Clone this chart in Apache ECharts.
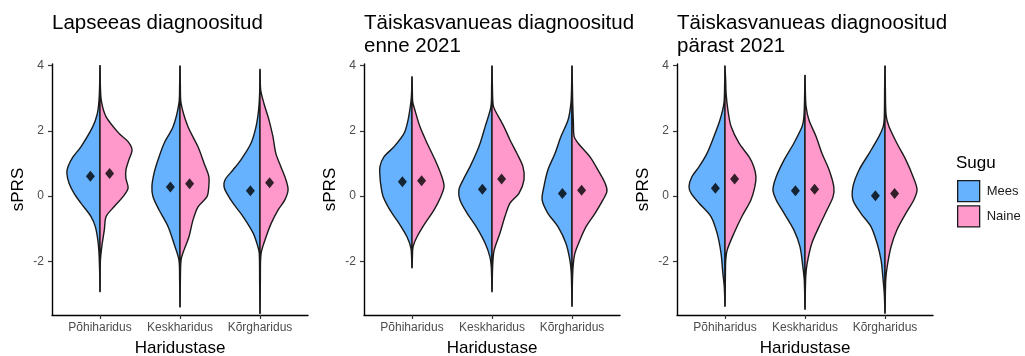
<!DOCTYPE html>
<html>
<head>
<meta charset="utf-8">
<script src="https://cdn.jsdelivr.net/npm/echarts@6/dist/echarts.min.js"></script>
<style>
  html, body { margin: 0; padding: 0; background: #ffffff; }
  #chart { width: 1025px; height: 356px; }
</style>
</head>
<body>
<div id="chart"></div>
<script>
// Education levels and sexes
const categories = ['Põhiharidus', 'Keskharidus', 'Kõrgharidus'];
const sexes = ['Mees', 'Naine'];
const panelTitles = [
  'Lapseeas diagnoositud',
  'Täiskasvanueas diagnoositud\nenne 2021',
  'Täiskasvanueas diagnoositud\npärast 2021'
];
const yTicks = [-2, 0, 2, 4];

// Density profiles: [sPRS, relative density] from top to bottom, one per education level
const lapseeasMees = [
  [[4.0,0],[3.4,0.01],[2.9,0.03],[2.5,0.08],[2.13,0.2],[1.51,0.53],[1.2,0.75],[0.9,0.89],[0.7,0.92],[0.39,0.86],[0.08,0.72],[-0.22,0.53],[-0.63,0.25],[-0.94,0.13],[-1.35,0.06],[-1.7,0.03],[-2.3,0.01],[-2.93,0]],
  [[4.0,0],[3.4,0.01],[2.84,0.03],[2.13,0.19],[1.62,0.44],[1.11,0.61],[0.7,0.72],[0.29,0.78],[-0.02,0.75],[-0.43,0.58],[-0.94,0.33],[-1.45,0.17],[-1.96,0.03],[-2.6,0.01],[-3.4,0]],
  [[3.88,0],[3.15,0.01],[2.63,0.04],[2.13,0.11],[1.62,0.25],[1.11,0.53],[0.8,0.75],[0.5,0.97],[0.29,1.0],[0.08,0.92],[-0.22,0.75],[-0.63,0.47],[-1.14,0.19],[-1.55,0.06],[-1.76,0.02],[-2.6,0.01],[-3.6,0]]
];
const lapseeasNaine = [
  [[4.0,0],[3.4,0.01],[2.9,0.04],[2.43,0.17],[1.92,0.53],[1.67,0.78],[1.41,0.89],[1.1,0.8],[0.8,0.72],[0.54,0.72],[0.24,0.78],[-0.02,0.64],[-0.33,0.39],[-0.63,0.17],[-1.04,0.12],[-1.55,0.05],[-2.0,0.01],[-2.93,0]],
  [[4.0,0],[3.4,0.01],[2.84,0.03],[2.13,0.22],[1.51,0.5],[1.0,0.67],[0.6,0.8],[0.29,0.8],[-0.02,0.75],[-0.33,0.5],[-0.74,0.36],[-1.25,0.25],[-1.66,0.11],[-1.96,0.03],[-2.6,0.01],[-3.4,0]],
  [[3.88,0],[3.25,0.02],[2.84,0.11],[2.33,0.25],[1.82,0.36],[1.31,0.44],[0.9,0.58],[0.5,0.72],[0.19,0.78],[-0.12,0.69],[-0.43,0.5],[-0.84,0.31],[-1.25,0.17],[-1.76,0.03],[-2.6,0.01],[-3.6,0]]
];
const enneMees = [
  [[3.66,0],[3.2,0.01],[2.89,0.03],[2.33,0.11],[1.92,0.22],[1.51,0.5],[1.2,0.78],[0.9,0.89],[0.59,0.89],[0.29,0.86],[-0.02,0.8],[-0.43,0.61],[-0.84,0.36],[-1.25,0.14],[-1.6,0.03],[-1.9,0.01],[-2.2,0]],
  [[4.0,0],[3.4,0.01],[2.74,0.03],[2.13,0.19],[1.62,0.33],[1.31,0.44],[0.9,0.61],[0.5,0.8],[0.19,0.92],[-0.12,0.89],[-0.53,0.69],[-0.94,0.44],[-1.45,0.19],[-1.86,0.06],[-2.17,0.02],[-2.94,0]],
  [[4.0,0],[3.4,0.01],[2.84,0.03],[2.33,0.11],[1.82,0.31],[1.31,0.47],[0.8,0.67],[0.29,0.78],[-0.12,0.83],[-0.53,0.67],[-0.94,0.39],[-1.45,0.17],[-1.96,0.06],[-2.37,0.02],[-3.38,0]]
];
const enneNaine = [
  [[3.66,0],[3.2,0.01],[2.89,0.02],[2.64,0.08],[2.13,0.22],[1.62,0.42],[1.11,0.64],[0.59,0.83],[0.29,0.89],[-0.02,0.8],[-0.43,0.61],[-0.84,0.36],[-1.25,0.14],[-1.55,0.03],[-1.9,0.01],[-2.2,0]],
  [[4.0,0],[3.4,0.01],[2.8,0.03],[2.64,0.08],[2.13,0.33],[1.72,0.5],[1.31,0.69],[0.9,0.86],[0.5,0.89],[0.08,0.75],[-0.22,0.5],[-0.63,0.36],[-1.14,0.22],[-1.66,0.06],[-2.1,0.02],[-2.94,0]],
  [[4.0,0],[3.4,0.01],[2.84,0.02],[2.2,0.04],[1.82,0.06],[1.62,0.17],[1.2,0.5],[0.8,0.72],[0.39,0.92],[0.14,0.97],[-0.12,0.86],[-0.53,0.64],[-0.94,0.39],[-1.35,0.22],[-1.76,0.08],[-2.17,0.03],[-2.7,0.01],[-3.38,0]]
];
const parastMees = [
  [[4.0,0],[3.4,0.01],[2.84,0.03],[2.33,0.14],[1.82,0.31],[1.31,0.5],[0.9,0.72],[0.59,0.92],[0.29,1.0],[0.08,0.94],[-0.22,0.72],[-0.63,0.39],[-1.14,0.22],[-1.76,0.11],[-2.37,0.06],[-2.78,0.02],[-3.38,0]],
  [[3.71,0],[3.1,0.01],[2.43,0.03],[2.13,0.08],[1.62,0.31],[1.11,0.58],[0.59,0.8],[0.19,0.89],[-0.12,0.8],[-0.53,0.58],[-1.04,0.31],[-1.55,0.14],[-2.17,0.06],[-2.58,0.02],[-3.48,0]],
  [[4.0,0],[3.3,0.01],[2.4,0.02],[2.13,0.05],[1.82,0.17],[1.31,0.44],[0.8,0.72],[0.29,0.89],[-0.12,0.89],[-0.53,0.67],[-0.94,0.39],[-1.45,0.22],[-1.96,0.11],[-2.48,0.06],[-2.99,0.02],[-3.6,0]]
];
const parastNaine = [
  [[4.0,0],[3.5,0.02],[3.15,0.03],[2.64,0.08],[2.13,0.17],[1.62,0.39],[1.2,0.67],[0.9,0.8],[0.59,0.86],[0.29,0.83],[-0.12,0.72],[-0.63,0.47],[-1.14,0.25],[-1.66,0.06],[-1.96,0.02],[-2.6,0.01],[-3.38,0]],
  [[3.71,0],[3.2,0.01],[2.74,0.03],[2.33,0.11],[1.82,0.31],[1.31,0.47],[0.8,0.67],[0.29,0.8],[-0.02,0.78],[-0.43,0.61],[-0.94,0.39],[-1.45,0.19],[-2.07,0.06],[-2.48,0.02],[-3.48,0]],
  [[4.0,0],[3.3,0.01],[2.48,0.03],[2.13,0.11],[1.62,0.33],[1.11,0.58],[0.59,0.78],[0.19,0.89],[-0.12,0.8],[-0.53,0.58],[-1.04,0.33],[-1.55,0.17],[-2.17,0.06],[-2.58,0.02],[-3.6,0]]
];

// Group means of sPRS per education level
const lapseeasMeesMean = [0.61, 0.28, 0.16];
const lapseeasNaineMean = [0.69, 0.38, 0.41];
const enneMeesMean = [0.44, 0.21, 0.08];
const enneNaineMean = [0.47, 0.52, 0.18];
const parastMeesMean = [0.24, 0.16, 0.01];
const parastNaineMean = [0.52, 0.21, 0.08];

const panels = [
  { mees: lapseeasMees, naine: lapseeasNaine, meesMean: lapseeasMeesMean, naineMean: lapseeasNaineMean },
  { mees: enneMees, naine: enneNaine, meesMean: enneMeesMean, naineMean: enneNaineMean },
  { mees: parastMees, naine: parastNaine, meesMean: parastMeesMean, naineMean: parastNaineMean }
];

const FONT = 'Liberation Sans, Arial, sans-serif';
const COLORS = { Mees: '#66B2FF', Naine: '#FF99CC' };
const HALF = 0.45;      // widest half-violin, in category units
const DODGE = 0.12;     // horizontal offset of the mean markers
const gridLefts = [52, 364, 677];
const gridWidth = 256;

function halfViolin(profiles, side, color) {
  return function (params, api) {
    const prof = profiles[params.dataIndex];
    const cx = params.dataIndex + 1;
    const edge = prof.map(p => api.coord([cx + side * p[1] * HALF, p[0]]));
    const mid = prof.slice(1, -1).reverse().map(p => api.coord([cx, p[0]]));
    return {
      type: 'polygon',
      shape: { points: edge.concat(mid), smooth: 0.3 },
      style: { fill: color, stroke: '#1a1a1a', lineWidth: 1.4 }
    };
  };
}

const grid = [], xAxis = [], yAxis = [], series = [], title = [];

panels.forEach((p, k) => {
  grid.push({ left: gridLefts[k], top: 64, width: gridWidth, height: 251, outerBoundsMode: 'none', containLabel: false });
  xAxis.push({
    gridIndex: k, type: 'value', min: 0.4, max: 3.6,
    name: 'Haridustase', nameLocation: 'middle', nameGap: 25,
    nameTextStyle: { fontFamily: FONT, fontSize: 17, color: '#000' },
    axisLine: { onZero: false, lineStyle: { color: '#000', width: 1.4 } },
    axisTick: { length: 4, customValues: [1, 2, 3], lineStyle: { color: '#333', width: 1.2 } },
    axisLabel: {
      customValues: [1, 2, 3], margin: 7,
      fontFamily: FONT, fontSize: 12, color: '#4d4d4d',
      formatter: v => categories[Math.round(v) - 1]
    },
    splitLine: { show: false }
  });
  yAxis.push({
    gridIndex: k, type: 'value', min: -3.65, max: 4.05,
    name: 'sPRS', nameLocation: 'middle', nameGap: 25,
    nameTextStyle: { fontFamily: FONT, fontSize: 17, color: '#000' },
    axisLine: { show: true, onZero: false, lineStyle: { color: '#000', width: 1.4 } },
    axisTick: { show: true, length: 4, customValues: yTicks, lineStyle: { color: '#333', width: 1.2 } },
    axisLabel: { customValues: yTicks, margin: 8, fontFamily: FONT, fontSize: 12, color: '#4d4d4d' },
    splitLine: { show: false }
  });
  title.push({
    text: panelTitles[k], left: gridLefts[k], top: 12, padding: 0,
    textStyle: { fontFamily: FONT, fontSize: 20.5, fontWeight: 'normal', color: '#000', lineHeight: 23 }
  });

  const catData = categories.map((c, i) => [i + 1, 0]);
  series.push({
    type: 'custom', name: 'Mees', xAxisIndex: k, yAxisIndex: k, clip: false,
    itemStyle: { color: COLORS.Mees },
    renderItem: halfViolin(p.mees, -1, COLORS.Mees), data: catData
  });
  series.push({
    type: 'custom', name: 'Naine', xAxisIndex: k, yAxisIndex: k, clip: false,
    itemStyle: { color: COLORS.Naine },
    renderItem: halfViolin(p.naine, 1, COLORS.Naine), data: catData
  });
  series.push({
    type: 'scatter', name: 'keskmine', xAxisIndex: k, yAxisIndex: k,
    symbol: 'diamond', symbolSize: [9, 11], z: 5,
    itemStyle: { color: '#000' },
    data: p.meesMean.map((m, i) => [i + 1 - DODGE, m])
      .concat(p.naineMean.map((m, i) => [i + 1 + DODGE, m]))
  });
});

title.push({
  text: 'Sugu', left: 956, top: 155, padding: 0,
  textStyle: { fontFamily: FONT, fontSize: 17, fontWeight: 'normal', color: '#000' }
});

const chart = echarts.init(document.getElementById('chart'), null, { renderer: 'canvas' });
chart.setOption({
  backgroundColor: '#ffffff',
  animation: false,
  title: title,
  grid: grid,
  xAxis: xAxis,
  yAxis: yAxis,
  legend: {
    orient: 'vertical', left: 957, top: 180, padding: 0,
    itemWidth: 22, itemHeight: 21, itemGap: 3,
    selectedMode: false,
    data: sexes.map(s => ({ name: s, icon: 'rect', itemStyle: { color: COLORS[s], borderColor: '#1a1a1a', borderWidth: 1.3 } })),
    textStyle: { fontFamily: FONT, fontSize: 13, color: '#1a1a1a', padding: [0, 0, 0, 2] }
  },
  series: series
});
</script>
</body>
</html>
